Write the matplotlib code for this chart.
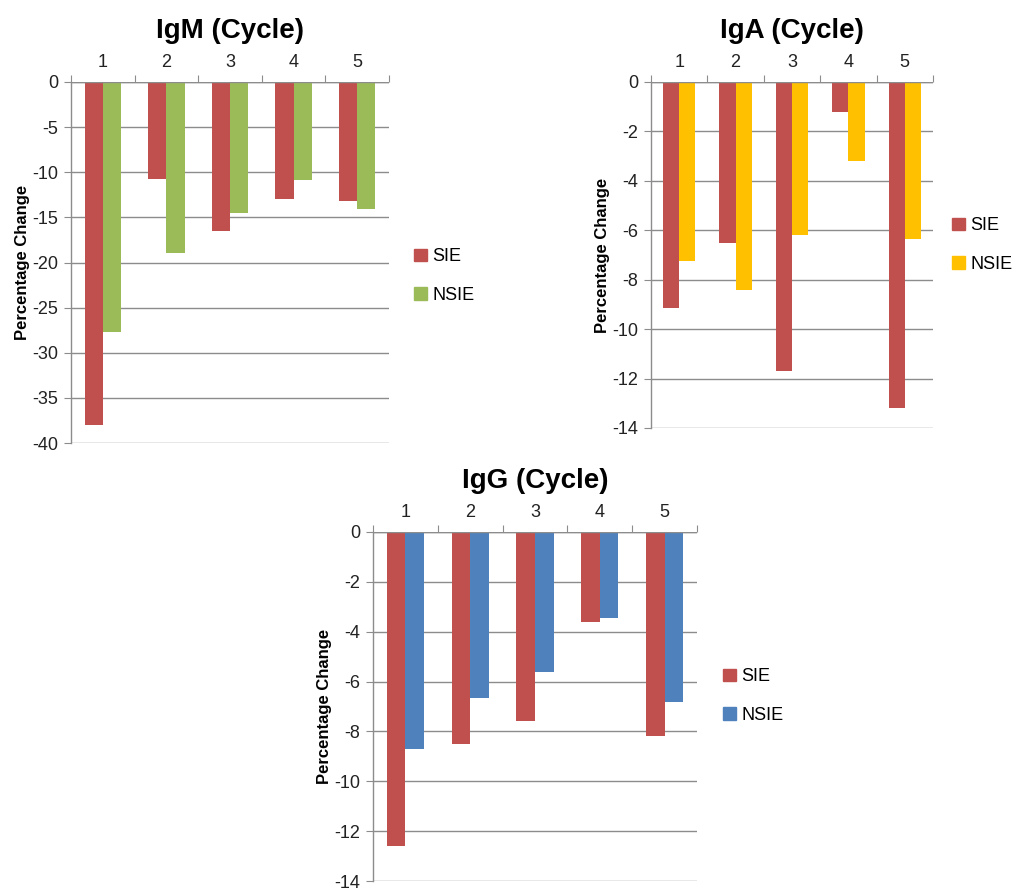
import matplotlib
matplotlib.use("Agg")
import matplotlib.pyplot as plt
import numpy as np
from matplotlib.patches import Patch

plt.rcParams['font.family'] = ['Liberation Sans', 'DejaVu Sans']

cycles = ["1", "2", "3", "4", "5"]
series_names = ["SIE", "NSIE"]

igm_sie = [-38.0, -10.8, -16.5, -13.0, -13.2]
igm_nsie = [-27.7, -19.0, -14.5, -10.9, -14.1]

iga_sie = [-9.15, -6.5, -11.7, -1.2, -13.2]
iga_nsie = [-7.25, -8.4, -6.2, -3.2, -6.35]

igg_sie = [-12.6, -8.5, -7.6, -3.6, -8.2]
igg_nsie = [-8.7, -6.65, -5.6, -3.45, -6.8]

RED = "#C0504D"
GREEN = "#9BBB59"
YELLOW = "#FFC000"
BLUE = "#4F81BD"
GRID = "#8C8C8C"

W, H = 1016, 891
fig = plt.figure(figsize=(W / 100, H / 100), dpi=100)


def px_axes(x0, y0, x1, y1):
    return fig.add_axes([x0 / W, 1 - y1 / H, (x1 - x0) / W, (y1 - y0) / H])


def panel(ax, title, sie, nsie, color2, ymin, ystep, legend_xy):
    n = len(cycles)
    x = np.arange(n)
    bw = 1 / 3.5
    ax.bar(x - bw / 2, sie, width=bw, color=RED, zorder=3)
    ax.bar(x + bw / 2, nsie, width=bw, color=color2, zorder=3)
    ax.set_xlim(-0.5, n - 0.5)
    ax.set_ylim(ymin, 0)
    ticks = np.arange(ymin, 0.001, ystep)
    ax.set_yticks(ticks)
    ax.set_yticklabels([f"{int(t)}" for t in ticks])
    ax.yaxis.grid(True, color=GRID, linewidth=1.0, zorder=0)
    ax.set_axisbelow(True)
    for s in ["top", "right", "bottom"]:
        ax.spines[s].set_visible(False)
    ax.spines["left"].set_color(GRID)
    ax.spines["left"].set_linewidth(1.0)
    ax.tick_params(axis="y", length=5, color=GRID, labelsize=13, labelcolor="#222222", pad=4)
    # category axis at top (zero line)
    ax.xaxis.tick_top()
    ax.set_xticks(np.arange(n + 1) - 0.5, minor=False)
    ax.set_xticklabels([])
    ax.tick_params(axis="x", which="major", length=5, color=GRID, direction="out")
    ax.set_xticks(x, minor=True)
    ax.set_xticklabels(cycles, minor=True)
    ax.tick_params(axis="x", which="minor", length=0, labelsize=13, labelcolor="#222222", pad=8)
    ax.axhline(0, color=GRID, linewidth=1.0, zorder=4)
    ax.set_ylabel("Percentage Change", fontsize=12, fontweight="bold", labelpad=2)
    ax.set_title(title, fontsize=20, fontweight="bold", pad=32)
    handles = [Patch(color=RED, label=series_names[0]), Patch(color=color2, label=series_names[1])]
    fig.legend(handles=handles, loc="center left", bbox_to_anchor=(legend_xy[0] / W, 1 - legend_xy[1] / H),
               frameon=False, fontsize=13, handlelength=0.7, handleheight=0.7, handletextpad=0.3,
               labelspacing=1.2, borderaxespad=0, borderpad=0)


ax1 = px_axes(71, 82, 389, 443)
panel(ax1, "IgM (Cycle)", igm_sie, igm_nsie, GREEN, -40, 5, (414, 276))

ax2 = px_axes(651, 82, 933, 428)
panel(ax2, "IgA (Cycle)", iga_sie, iga_nsie, YELLOW, -14, 2, (952, 245))

ax3 = px_axes(373, 532, 697, 881)
panel(ax3, "IgG (Cycle)", igg_sie, igg_nsie, BLUE, -14, 2, (723, 696))

fig.savefig("out.png", dpi=100, facecolor="white")
